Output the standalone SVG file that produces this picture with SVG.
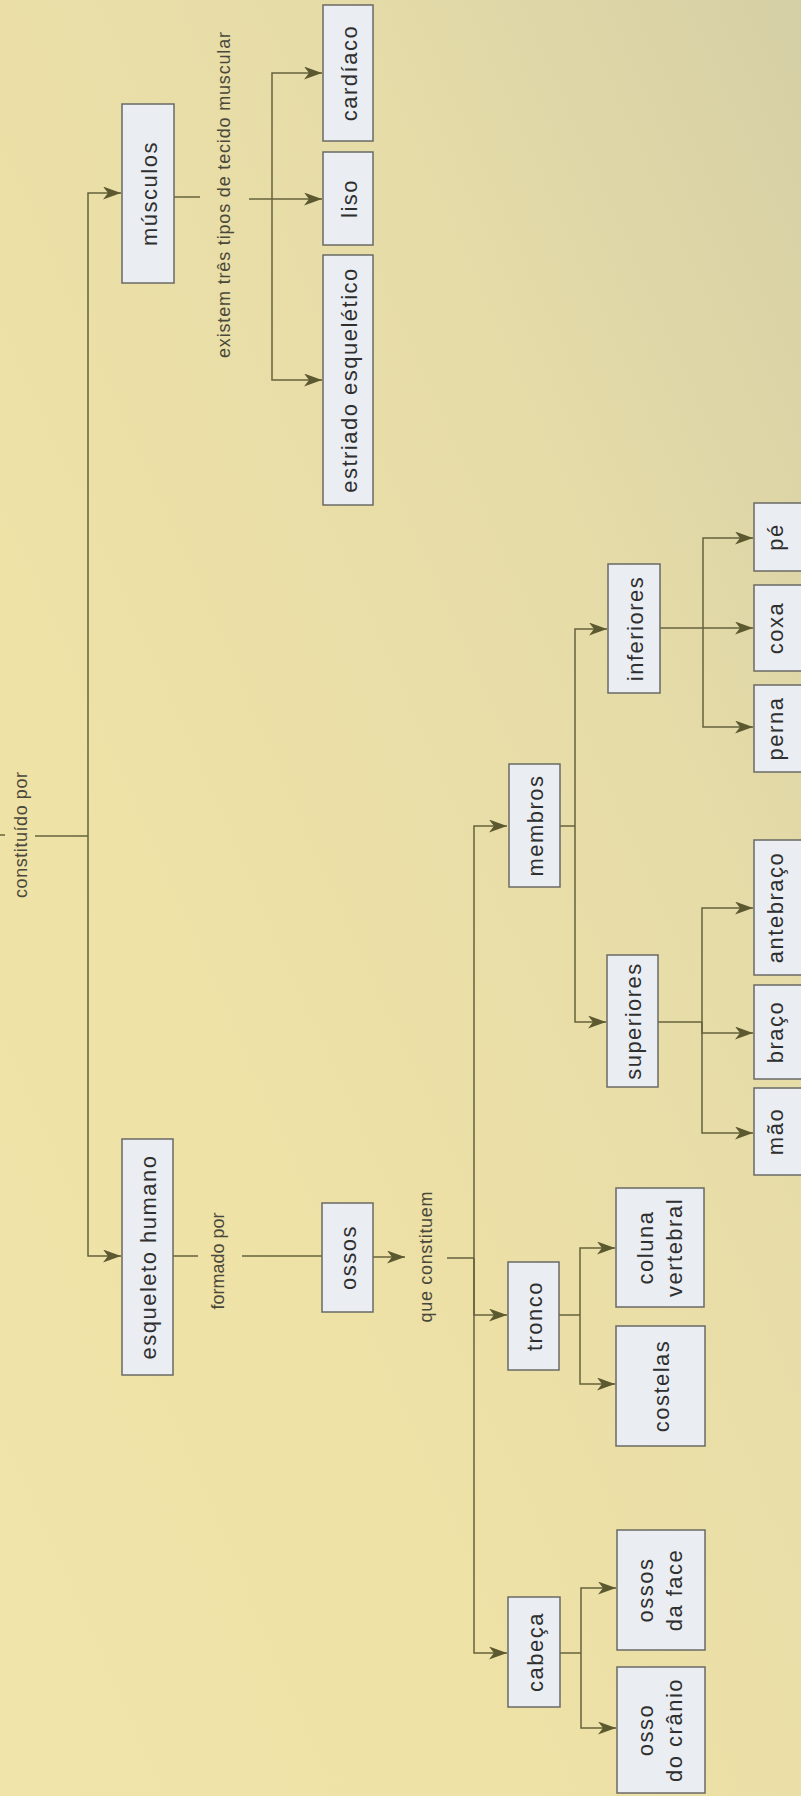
<svg xmlns="http://www.w3.org/2000/svg" width="801" height="1796" viewBox="0 0 801 1796">
  <defs>
    <linearGradient id="paper" x1="1" y1="0" x2="0" y2="1">
      <stop offset="0" stop-color="#d5cfa5"/>
      <stop offset="0.3" stop-color="#e6dca8"/>
      <stop offset="0.7" stop-color="#efe2a6"/>
      <stop offset="1" stop-color="#f0e4ab"/>
    </linearGradient>
    <marker id="arr" markerUnits="userSpaceOnUse" markerWidth="20" markerHeight="14" refX="18" refY="6.5" orient="auto">
      <path d="M0,0 L18,6.5 L0,13 L5,6.5 Z" fill="#5c5930"/>
    </marker>
    <style>
      .box rect { fill: #eaeef3; stroke: #6a6a66; stroke-width: 1.5; }
      .box text { font-family: "Liberation Sans", Arial, sans-serif; font-size: 22px; letter-spacing: 1.5px; fill: #2f2f2f; text-anchor: middle; }
      .lbl { font-family: "Liberation Sans", Arial, sans-serif; font-size: 18px; fill: #4a483a; text-anchor: middle; }
      .wire path { fill: none; stroke: #66623c; stroke-width: 1.5; }
      .wire path.a { marker-end: url(#arr); }
    </style>
  </defs>

  <rect width="801" height="1796" fill="url(#paper)"/>

  <!-- connectors -->
  <g id="connectors" class="wire">
    <!-- root: constituído por -->
    <path d="M0,835 H5"/>
    <path d="M35,836 H88"/>
    <path class="a" d="M88,836 V193 H121"/>
    <path class="a" d="M88,836 V1256 H121"/>

    <!-- músculos: existem três tipos de tecido muscular -->
    <path d="M174,197 H200"/>
    <path d="M249,199 H272"/>
    <path class="a" d="M272,199 V73 H322"/>
    <path class="a" d="M272,199 H322"/>
    <path class="a" d="M272,199 V380 H322"/>

    <!-- esqueleto humano: formado por -> ossos -->
    <path d="M173,1256 H198"/>
    <path d="M242,1256 H322"/>

    <!-- ossos -> que constituem -->
    <path class="a" d="M373,1257 H405"/>
    <path d="M447,1258 H474"/>
    <path class="a" d="M474,1258 V826 H507"/>
    <path class="a" d="M474,1258 V1315 H507"/>
    <path class="a" d="M474,1258 V1653 H507"/>

    <!-- membros -->
    <path d="M560,826 H575"/>
    <path class="a" d="M575,826 V629 H607"/>
    <path class="a" d="M575,826 V1022 H606"/>

    <!-- inferiores -->
    <path class="a" d="M660,628 H753"/>
    <path class="a" d="M703,628 V538 H753"/>
    <path class="a" d="M703,628 V727 H753"/>

    <!-- superiores -->
    <path d="M658,1022 H702"/>
    <path class="a" d="M702,1022 V908 H753"/>
    <path class="a" d="M702,1022 V1033 H753"/>
    <path class="a" d="M702,1022 V1133 H753"/>

    <!-- tronco -->
    <path d="M559,1315 H580"/>
    <path class="a" d="M580,1315 V1248 H615"/>
    <path class="a" d="M580,1315 V1384 H615"/>

    <!-- cabeça -->
    <path d="M560,1653 H581"/>
    <path class="a" d="M581,1653 V1588 H616"/>
    <path class="a" d="M581,1653 V1728 H616"/>
  </g>

  <!-- connector labels -->
  <g id="labels">
    <text class="lbl" transform="translate(27,835) rotate(-90)" textLength="126" lengthAdjust="spacing">constituído por</text>
    <text class="lbl" transform="translate(230,195) rotate(-90)" textLength="326" lengthAdjust="spacing">existem três tipos de tecido muscular</text>
    <text class="lbl" transform="translate(224,1261) rotate(-90)" textLength="97" lengthAdjust="spacing">formado por</text>
    <text class="lbl" transform="translate(432,1257) rotate(-90)" textLength="131" lengthAdjust="spacing">que constituem</text>
  </g>

  <!-- nodes -->
  <g id="musculos" class="box">
    <rect x="122" y="104" width="52" height="179"/>
    <text transform="translate(148,193.5) rotate(-90)" y="8.5">músculos</text>
  </g>
  <g id="cardiaco" class="box">
    <rect x="323" y="5" width="50" height="136"/>
    <text transform="translate(348,73) rotate(-90)" y="8.5">cardíaco</text>
  </g>
  <g id="liso" class="box">
    <rect x="323" y="152" width="50" height="93"/>
    <text transform="translate(348,198.5) rotate(-90)" y="8.5">liso</text>
  </g>
  <g id="estriado" class="box">
    <rect x="323" y="255" width="50" height="250"/>
    <text transform="translate(348,380) rotate(-90)" y="8.5">estriado esquelético</text>
  </g>
  <g id="esqueleto" class="box">
    <rect x="122" y="1139" width="51" height="236"/>
    <text transform="translate(147.5,1257) rotate(-90)" y="8.5">esqueleto humano</text>
  </g>
  <g id="ossos" class="box">
    <rect x="322" y="1203" width="51" height="109"/>
    <text transform="translate(347.5,1257.5) rotate(-90)" y="8.5">ossos</text>
  </g>
  <g id="membros" class="box">
    <rect x="509" y="764" width="51" height="123"/>
    <text transform="translate(534.5,825.5) rotate(-90)" y="8.5">membros</text>
  </g>
  <g id="inferiores" class="box">
    <rect x="608" y="564" width="52" height="129"/>
    <text transform="translate(634,628.5) rotate(-90)" y="8.5">inferiores</text>
  </g>
  <g id="superiores" class="box">
    <rect x="607" y="955" width="51" height="132"/>
    <text transform="translate(632.5,1021) rotate(-90)" y="8.5">superiores</text>
  </g>
  <g id="tronco" class="box">
    <rect x="508" y="1262" width="51" height="108"/>
    <text transform="translate(533.5,1316) rotate(-90)" y="8.5">tronco</text>
  </g>
  <g id="cabeca" class="box">
    <rect x="508" y="1597" width="52" height="110"/>
    <text transform="translate(534,1652) rotate(-90)" y="8.5">cabeça</text>
  </g>
  <g id="coluna" class="box">
    <rect x="616" y="1188" width="88" height="119"/>
    <text transform="translate(660,1247.5) rotate(-90)"><tspan x="0" y="-7">coluna</tspan><tspan x="0" y="22">vertebral</tspan></text>
  </g>
  <g id="costelas" class="box">
    <rect x="616" y="1326" width="89" height="120"/>
    <text transform="translate(660.5,1386) rotate(-90)" y="8.5">costelas</text>
  </g>
  <g id="ossos-face" class="box">
    <rect x="617" y="1530" width="88" height="120"/>
    <text transform="translate(661,1590) rotate(-90)"><tspan x="0" y="-8">ossos</tspan><tspan x="0" y="21">da face</tspan></text>
  </g>
  <g id="osso-cranio" class="box">
    <rect x="617" y="1667" width="88" height="126"/>
    <text transform="translate(661,1730) rotate(-90)"><tspan x="0" y="-8">osso</tspan><tspan x="0" y="21">do crânio</tspan></text>
  </g>
  <g id="pe" class="box">
    <rect x="754" y="503" width="60" height="68"/>
    <text transform="translate(775,537) rotate(-90)" y="8">pé</text>
  </g>
  <g id="coxa" class="box">
    <rect x="754" y="585" width="60" height="86"/>
    <text transform="translate(775,628) rotate(-90)" y="8">coxa</text>
  </g>
  <g id="perna" class="box">
    <rect x="754" y="685" width="60" height="87"/>
    <text transform="translate(775,728.5) rotate(-90)" y="8">perna</text>
  </g>
  <g id="antebraco" class="box">
    <rect x="754" y="840" width="60" height="135"/>
    <text transform="translate(775,907.5) rotate(-90)" y="8">antebraço</text>
  </g>
  <g id="braco" class="box">
    <rect x="754" y="985" width="60" height="94"/>
    <text transform="translate(775,1032) rotate(-90)" y="8">braço</text>
  </g>
  <g id="mao" class="box">
    <rect x="754" y="1088" width="60" height="87"/>
    <text transform="translate(775,1131.5) rotate(-90)" y="8">mão</text>
  </g>
</svg>
